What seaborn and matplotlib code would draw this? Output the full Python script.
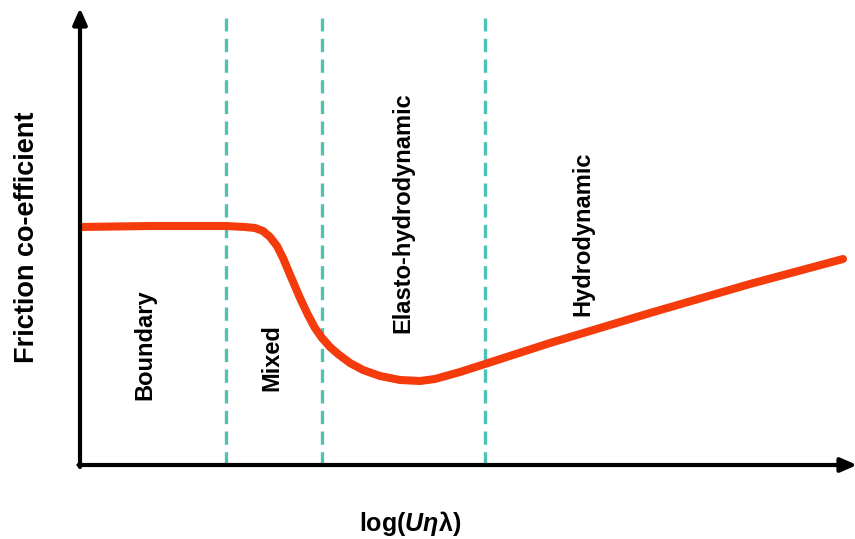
import matplotlib
matplotlib.use("Agg")
import matplotlib.pyplot as plt
import seaborn as sns
import pandas as pd

sns.set_theme(style="white")
plt.rcParams['font.family'] = ['Liberation Sans', 'DejaVu Sans']
plt.rcParams['text.color'] = 'black'
plt.rcParams['mathtext.fontset'] = 'custom'
plt.rcParams['mathtext.rm'] = 'Liberation Sans:bold'
plt.rcParams['mathtext.it'] = 'Liberation Sans:italic:bold'
plt.rcParams['mathtext.bf'] = 'Liberation Sans:bold'

# Stribeck curve (arbitrary units)
log_u = [0, 70, 146, 165, 175, 183, 190, 197, 203, 211, 220, 228, 235, 242, 250, 258, 270, 283,
         300, 320, 340, 355, 380, 405, 470, 570, 670, 763]
friction = [238, 239, 239, 238, 237, 234, 228, 219, 207, 188, 167, 150, 137, 127, 118, 111, 102, 95,
            89, 85, 84, 86, 93, 101, 122, 152, 181, 206]
boundaries = [146, 242, 405]
regimes = ["Boundary", "Mixed", "Elasto-hydrodynamic", "Hydrodynamic"]
regime_x = [65, 192, 323, 503]
regime_y = [120, 107, 252, 231]

df = pd.DataFrame({"x": log_u, "y": friction})

fig = plt.figure(figsize=(8.55, 5.39), dpi=100)
W, H = 855, 539
ax = fig.add_axes([80 / W, 0, 1 - 80 / W, 1])
ax.set_xlim(0, 775)
ax.set_ylim(-(539 - 465), 465)
ax.axis("off")

for b in boundaries:
    ax.plot([b, b], [0, 447], color="#4EC3B3", lw=2.4, dashes=(4.0, 2.2), zorder=1)

sns.lineplot(data=df, x="x", y="y", ax=ax, color="#F53A0C", lw=5.8,
             solid_capstyle="round", solid_joinstyle="round", zorder=3, legend=False)

# axes arrows
ax.annotate("", xy=(0, 457), xytext=(0, -2),
            arrowprops=dict(arrowstyle="-|>,head_length=0.8,head_width=0.35", lw=3, color="black",
                            shrinkA=0, shrinkB=0), annotation_clip=False)
ax.annotate("", xy=(777, 0), xytext=(-1.5, 0),
            arrowprops=dict(arrowstyle="-|>,head_length=0.8,head_width=0.35", lw=3, color="black",
                            shrinkA=0, shrinkB=0), annotation_clip=False)

for name, x, y in zip(regimes, regime_x, regime_y):
    ax.text(x, y, name, rotation=90, ha="center", va="center", fontsize=17,
            fontweight="bold", color="black")

fig.text(27 / W, 1 - 237 / H, "Friction co-efficient", rotation=90, ha="center", va="center",
         fontsize=19.5, fontweight="bold", color="black")
fig.text(410 / W, 1 - 523 / H, r"$\mathrm{log(}U\eta\mathrm{\lambda)}$", ha="center", va="center",
         fontsize=18, color="black")

fig.savefig("out.png", dpi=100)
